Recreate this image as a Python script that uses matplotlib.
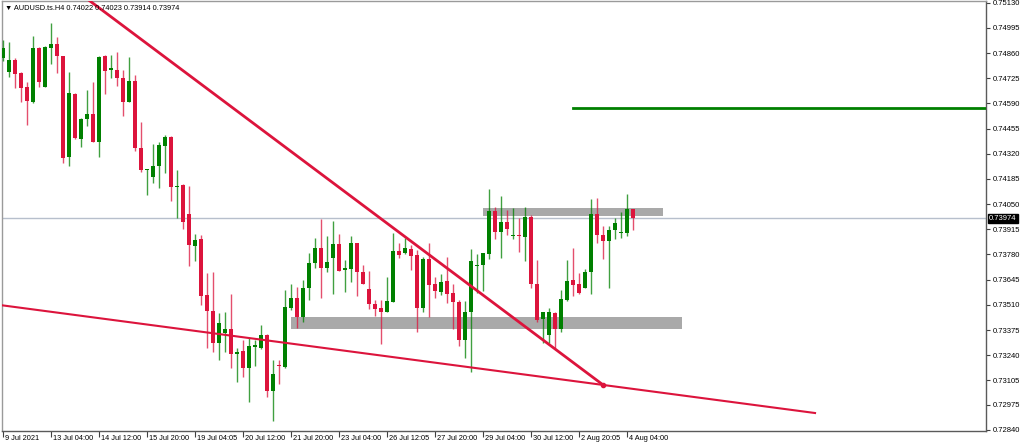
import matplotlib
matplotlib.use("Agg")
import matplotlib.pyplot as plt
import matplotlib.transforms as mtransforms
from matplotlib.patches import Rectangle

plt.rcParams['font.family'] = ['Liberation Sans', 'DejaVu Sans']

# ---------------- data (AUDUSD H4) ----------------
title_text = "\u25BC AUDUSD.ts.H4 0.74022 0.74023 0.73914 0.73974"

opens = [0.74832, 0.74760, 0.74823, 0.74751, 0.74680, 0.74596, 0.74885, 0.74680, 0.74889, 0.74907,
         0.74846, 0.74305, 0.74640, 0.74399, 0.74506, 0.74531, 0.74385, 0.74844, 0.74771, 0.74769,
         0.74728, 0.74599, 0.74710, 0.74349, 0.74231, 0.74197, 0.74256, 0.74364, 0.74412, 0.74142,
         0.74153, 0.73999, 0.73827, 0.73863, 0.73563, 0.73477, 0.73304, 0.73357, 0.73381, 0.73245,
         0.73263, 0.73173, 0.73286, 0.73277, 0.73348, 0.73048, 0.73188, 0.73179, 0.73495, 0.73545,
         0.73447, 0.73599, 0.73733, 0.73813, 0.73709, 0.73759, 0.73836, 0.73697, 0.73702, 0.73840,
         0.73688, 0.73595, 0.73513, 0.73491, 0.73474, 0.73527, 0.73801, 0.73786, 0.73810, 0.73777,
         0.73491, 0.73756, 0.73620, 0.73577, 0.73638, 0.73572, 0.73527, 0.73322, 0.73470, 0.73720,
         0.73724, 0.73783, 0.74015, 0.73899, 0.73956, 0.73879, 0.73885, 0.73876, 0.73983, 0.73620,
         0.73434, 0.73348, 0.73468, 0.73381, 0.73536, 0.73643, 0.73620, 0.73602, 0.73684, 0.73995,
         0.73885, 0.73852, 0.73911, 0.73894, 0.73894, 0.74022]

highs = [0.74930, 0.74917, 0.74835, 0.74760, 0.74707, 0.74951, 0.74894, 0.74898, 0.75019, 0.74948,
         0.74846, 0.74760, 0.74644, 0.74510, 0.74662, 0.74707, 0.74844, 0.74850, 0.74850, 0.74867,
         0.74769, 0.74841, 0.74742, 0.74492, 0.74238, 0.74371, 0.74385, 0.74421, 0.74417, 0.74231,
         0.74156, 0.74145, 0.73888, 0.73885, 0.73679, 0.73688, 0.73465, 0.73470, 0.73566, 0.73281,
         0.73322, 0.73331, 0.73322, 0.73402, 0.73352, 0.73214, 0.73214, 0.73590, 0.73620, 0.73608,
         0.73643, 0.73786, 0.73870, 0.73970, 0.73881, 0.73960, 0.73888, 0.73751, 0.73877, 0.73843,
         0.73724, 0.73692, 0.73536, 0.73536, 0.73658, 0.73897, 0.73843, 0.73867, 0.73831, 0.73804,
         0.73768, 0.73840, 0.73661, 0.73674, 0.73768, 0.73620, 0.73536, 0.73531, 0.73810, 0.73781,
         0.73790, 0.74129, 0.74035, 0.74094, 0.74019, 0.74028, 0.73977, 0.74036, 0.73992, 0.73751,
         0.73474, 0.73495, 0.73470, 0.73590, 0.73751, 0.73813, 0.73679, 0.73701, 0.74078, 0.74081,
         0.73933, 0.73935, 0.73974, 0.74006, 0.74104, 0.74023]

lows = [0.74820, 0.74733, 0.74671, 0.74599, 0.74474, 0.74594, 0.74680, 0.74678, 0.74800, 0.74751,
        0.74269, 0.74256, 0.74399, 0.74355, 0.74469, 0.74381, 0.74305, 0.74640, 0.74724, 0.74685,
        0.74523, 0.74596, 0.74335, 0.74224, 0.74099, 0.74162, 0.74138, 0.74215, 0.74069, 0.73974,
        0.73917, 0.73720, 0.73745, 0.73509, 0.73277, 0.73259, 0.73214, 0.73259, 0.73170, 0.73098,
        0.73125, 0.72991, 0.73184, 0.73275, 0.73018, 0.72887, 0.73084, 0.73170, 0.73483, 0.73384,
        0.73416, 0.73536, 0.73709, 0.73545, 0.73684, 0.73566, 0.73690, 0.73581, 0.73634, 0.73559,
        0.73620, 0.73488, 0.73452, 0.73298, 0.73470, 0.73523, 0.73759, 0.73781, 0.73697, 0.73366,
        0.73474, 0.73447, 0.73545, 0.73563, 0.73518, 0.73381, 0.73289, 0.73227, 0.73148, 0.73572,
        0.73584, 0.73754, 0.73863, 0.73763, 0.73885, 0.73863, 0.73795, 0.73745, 0.73602, 0.73420,
        0.73304, 0.73304, 0.73281, 0.73363, 0.73531, 0.73559, 0.73566, 0.73599, 0.73566, 0.73843,
        0.73754, 0.73602, 0.73863, 0.73870, 0.73881, 0.73914]

closes = [0.74885, 0.74823, 0.74746, 0.74674, 0.74603, 0.74885, 0.74707, 0.74891, 0.74907, 0.74844,
          0.74299, 0.74644, 0.74403, 0.74505, 0.74531, 0.74385, 0.74841, 0.74764, 0.74778, 0.74724,
          0.74596, 0.74710, 0.74353, 0.74233, 0.74236, 0.74254, 0.74367, 0.74412, 0.74142, 0.74149,
          0.73956, 0.73831, 0.73858, 0.73559, 0.73477, 0.73304, 0.73411, 0.73381, 0.73245, 0.73259,
          0.73173, 0.73290, 0.73295, 0.73348, 0.73048, 0.73138, 0.73182, 0.73497, 0.73545, 0.73447,
          0.73599, 0.73736, 0.73813, 0.73709, 0.73742, 0.73836, 0.73692, 0.73709, 0.73840, 0.73688,
          0.73622, 0.73513, 0.73488, 0.73474, 0.73531, 0.73801, 0.73777, 0.73813, 0.73774, 0.73491,
          0.73756, 0.73617, 0.73584, 0.73634, 0.73566, 0.73524, 0.73322, 0.73470, 0.73747, 0.73726,
          0.73786, 0.74015, 0.73899, 0.73956, 0.73917, 0.73885, 0.73881, 0.73979, 0.73622, 0.73429,
          0.73470, 0.73470, 0.73381, 0.73540, 0.73638, 0.73617, 0.73572, 0.73688, 0.73995, 0.73885,
          0.73852, 0.73911, 0.73947, 0.73899, 0.74022, 0.73974]

xtick_bars = [0, 8, 16, 24, 32, 40, 48, 56, 64, 72, 80, 88, 96, 104]
xtick_labels = ["9 Jul 2021", "13 Jul 04:00", "14 Jul 12:00", "15 Jul 20:00", "19 Jul 04:05",
                "20 Jul 12:00", "21 Jul 20:00", "23 Jul 04:00", "26 Jul 12:05", "27 Jul 20:00",
                "29 Jul 04:00", "30 Jul 12:00", "2 Aug 20:05", "4 Aug 04:00"]
ytick_vals = [0.75130, 0.74995, 0.74860, 0.74725, 0.74590, 0.74455, 0.74320, 0.74185, 0.74050,
              0.73915, 0.73780, 0.73645, 0.73510, 0.73375, 0.73240, 0.73105, 0.72975, 0.72840]

current_price = 0.73974
resistance_zone = (80.05, 110.05, 0.73986, 0.74027)   # bar from, bar to, low, high
support_zone = (48.05, 113.2, 0.73381, 0.73447)
target_level = (95.05, 0.74565)
down_trend = ((14.0, 0.75152), (100.1, 0.73080))
lower_trend = ((-0.45, 0.73509), (135.4, 0.72930))

# ---------------- figure ----------------
BULL = '#008000'
BEAR = '#dc143c'

fig = plt.figure(figsize=(10.24, 4.47), dpi=100)
ax = fig.add_axes([0.0015, 0.0347, 0.9614, 0.963])
ax.set_facecolor('white')
ax.set_xlim(-0.2, 163.9)
ax.set_ylim(0.72831, 0.75139)

# zones
for (x0, x1, lo, hi) in (resistance_zone, support_zone):
    ax.add_patch(Rectangle((x0, lo), x1 - x0, hi - lo, facecolor='#a9a9a9',
                           edgecolor='none', zorder=1))

# current price line
ax.axhline(current_price, color='#b7bfcc', lw=1.0, zorder=2)

# candles
xs = list(range(len(opens)))
for i, o, h, l, c in zip(xs, opens, highs, lows, closes):
    col = BULL if c >= o else BEAR
    ax.vlines(i, l, h, colors=col, lw=1.0, alpha=0.75, zorder=3)
    bottom = min(o, c)
    height = max(abs(c - o), 0.000025)
    ax.bar(i, height, bottom=bottom, width=0.62, color=col, linewidth=0, zorder=4)

# trend lines
ax.plot([down_trend[0][0], down_trend[1][0]], [down_trend[0][1], down_trend[1][1]],
        color=BEAR, lw=2.0, zorder=5, solid_capstyle='butt')
ax.plot([down_trend[1][0]], [down_trend[1][1]], marker='o', ms=3, color=BEAR, zorder=5)
ax.plot([lower_trend[0][0], lower_trend[1][0]], [lower_trend[0][1], lower_trend[1][1]],
        color=BEAR, lw=1.5, zorder=5)
ax.plot([target_level[0], 163.9], [target_level[1], target_level[1]], color=BULL, lw=2.0, zorder=5)

# axes styling
for s in ax.spines.values():
    s.set_color('#5a5a5a')
    s.set_linewidth(1.0)
ax.spines['left'].set_color('#9a9a9a')
ax.spines['top'].set_color('#9a9a9a')

ax.yaxis.tick_right()
ax.set_yticks(ytick_vals)
ax.set_yticklabels([f"{v:.5f}" for v in ytick_vals])
ax.tick_params(axis='y', direction='out', length=3, width=0.8, color='#404040',
               labelsize=5.5, pad=2, labelcolor='#000000')

ax.set_xticks(xtick_bars)
ax.set_xticklabels(xtick_labels)
ax.tick_params(axis='x', direction='out', length=4, width=0.8, color='#404040',
               labelsize=5.3, pad=0, labelcolor='#000000')
offset = mtransforms.ScaledTranslation(2 / 100, 2.5 / 100, fig.dpi_scale_trans)
for lab in ax.get_xticklabels():
    lab.set_horizontalalignment('left')
    lab.set_transform(lab.get_transform() + offset)

# current price box
trans = mtransforms.blended_transform_factory(ax.transAxes, ax.transData)
ax.text(1.0 + 3 / 984.5, current_price, f"{current_price:.5f}", transform=trans,
        ha='left', va='center', fontsize=5.5, color='white', zorder=10, clip_on=False,
        bbox=dict(boxstyle='square,pad=0.15', facecolor='black', edgecolor='black'))

# title
fig.text(5 / 1024, 1 - 8 / 447, title_text, fontsize=5.3, ha='left', va='center', color='black')

fig.savefig('out.png', dpi=100, facecolor='white')
